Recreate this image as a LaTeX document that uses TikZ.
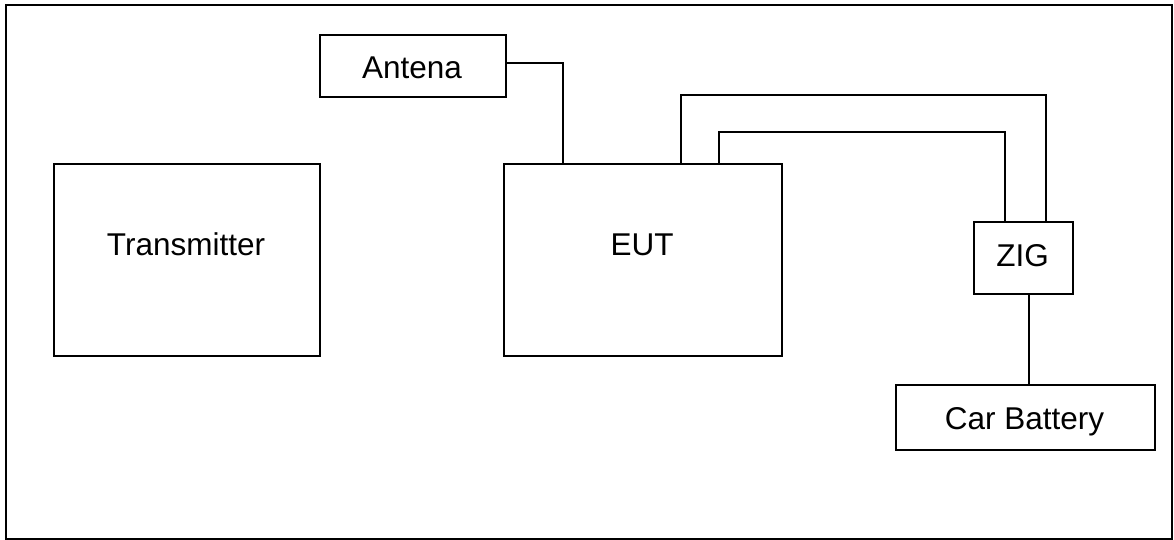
\documentclass[tikz,border=0pt]{standalone}
\usepackage{fontspec}
\setmainfont{Liberation Sans}
\usetikzlibrary{calc}
\begin{document}
\begin{tikzpicture}[x=1pt,y=-1pt,
  box/.style={draw,line width=1.6pt,rectangle,inner sep=0pt,anchor=north west},
  lbl/.style={anchor=base,inner sep=0pt,font=\fontsize{31.5}{36}\selectfont},
  wire/.style={line width=1.6pt}]
  \useasboundingbox (0,0) rectangle (1174,540);
  % outer frame
  \draw[line width=2.2pt] (6,5) rectangle (1172,539);
  % boxes
  \node[box,minimum width=266pt,minimum height=192pt] (tx)  at (53,163) {};
  \node[box,minimum width=186pt,minimum height=62pt]  (ant) at (319,34) {};
  \node[box,minimum width=278pt,minimum height=192pt] (eut) at (503,163) {};
  \node[box,minimum width=99pt,minimum height=72pt]   (zig) at (973,221) {};
  \node[box,minimum width=259pt,minimum height=65pt]  (bat) at (895,384) {};
  % labels
  \node[lbl] (txl)  at (186,255)    {Transmitter};
  \node[lbl] (antl) at (412,79)     {Antena};
  \node[lbl] (eutl) at (642,255)    {EUT};
  \node[lbl] (zigl) at (1022.5,266) {ZIG};
  \node[lbl] (batl) at (1024.5,429) {Car Battery};
  % wiring
  \coordinate (antdrop) at ($(eut.north west)+(60,0)$);
  \draw[wire] ($(ant.north east)+(0,29)$) -| (antdrop);
  \coordinate (w1a) at ($(eut.north west)+(178,0)$);
  \coordinate (w1b) at ($(zig.north west)+(73,0)$);
  \draw[wire] (w1a) -- (w1a |- 0,95) -| (w1b);
  \coordinate (w2a) at ($(eut.north west)+(216,0)$);
  \coordinate (w2b) at ($(zig.north west)+(32,0)$);
  \draw[wire] (w2a) -- (w2a |- 0,132) -| (w2b);
  \coordinate (zb) at (1029,0);
  \draw[wire] (zig.south -| zb) -- (bat.north -| zb);
\end{tikzpicture}
\end{document}
